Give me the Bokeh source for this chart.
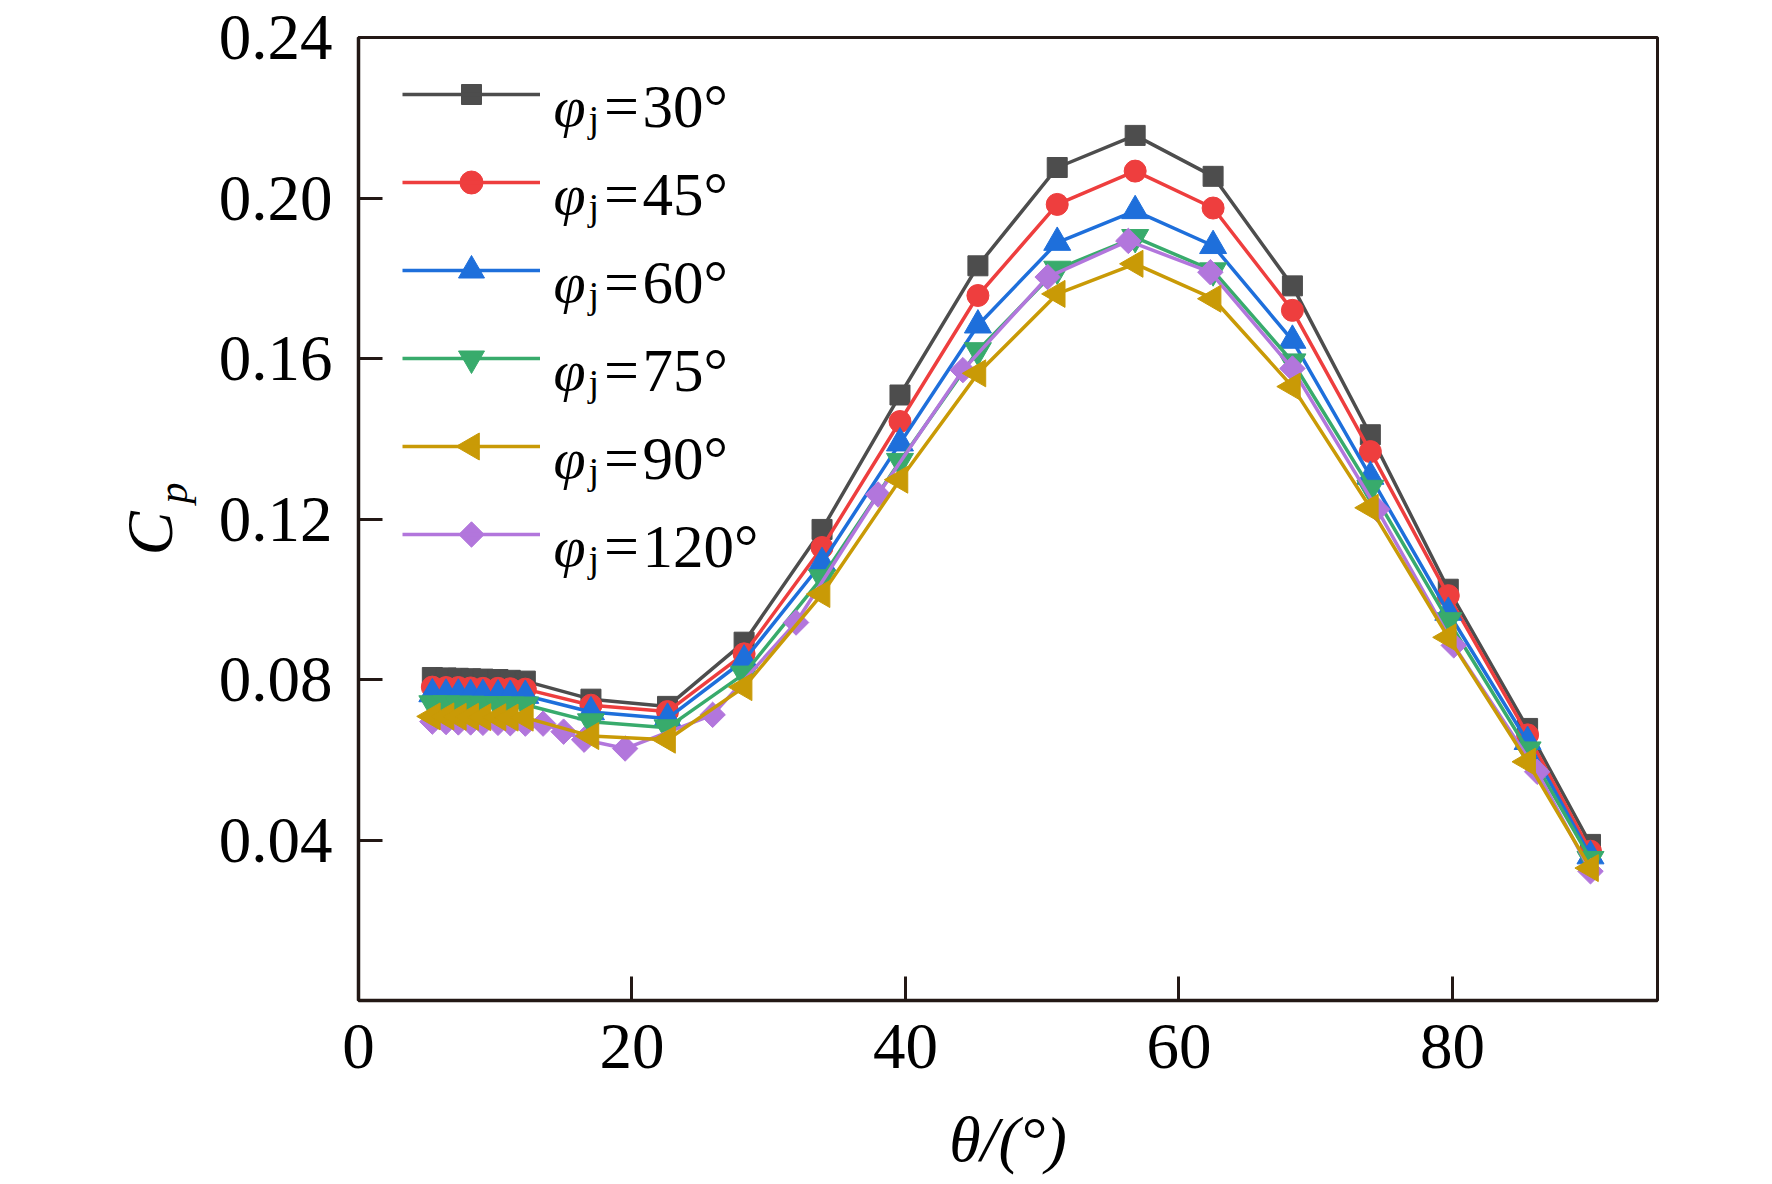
import math
from bokeh.plotting import figure
from bokeh.layouts import row
from bokeh.models import Range1d, FixedTicker, Legend, LegendItem, Label
from bokeh.core.properties import value
from bokeh.embed import file_html
from bokeh.resources import INLINE

# ---------------- data ----------------
theta = [5.4, 6.4, 7.3, 8.2, 9.1, 10.2, 11.1, 12.2, 17.0, 22.6, 28.2, 33.9,
         39.6, 45.3, 51.1, 56.8, 62.5, 68.3, 74.0, 79.7, 85.5, 90.1]
cp_30 = [0.0805, 0.0804, 0.0803, 0.0802, 0.0801, 0.0800, 0.0798, 0.0796, 0.0751, 0.0733,
         0.0893, 0.1174, 0.1509, 0.1831, 0.2076, 0.2156, 0.2054, 0.1781, 0.1410, 0.1025,
         0.0678, 0.0389]
cp_45 = [0.0781, 0.0780, 0.0780, 0.0779, 0.0778, 0.0778, 0.0777, 0.0776, 0.0736, 0.0720,
         0.0864, 0.1129, 0.1443, 0.1757, 0.1984, 0.2067, 0.1975, 0.1720, 0.1368, 0.1009,
         0.0662, 0.0372]
cp_60 = [0.0764, 0.0763, 0.0763, 0.0762, 0.0762, 0.0761, 0.0760, 0.0760, 0.0719, 0.0703,
         0.0848, 0.1091, 0.1389, 0.1683, 0.1889, 0.1968, 0.1881, 0.1645, 0.1306, 0.0967,
         0.0645, 0.0360]
cp_75 = [0.0740, 0.0740, 0.0739, 0.0739, 0.0738, 0.0738, 0.0737, 0.0737, 0.0695, 0.0680,
         0.0814, 0.1054, 0.1344, 0.1620, 0.1823, 0.1902, 0.1819, 0.1592, 0.1277, 0.0947,
         0.0625, 0.0352]
cp_90 = [0.0708, 0.0708, 0.0707, 0.0707, 0.0706, 0.0706, 0.0705, 0.0705, 0.0659, 0.0650,
         0.0781, 0.1013, 0.1298, 0.1563, 0.1761, 0.1836, 0.1749, 0.1530, 0.1228, 0.0905,
         0.0595, 0.0330]
theta_120 = [5.4, 6.4, 7.3, 8.2, 9.1, 10.2, 11.1, 12.2, 13.5, 15.0, 16.5, 19.5, 25.9,
             32.0, 38.0, 44.2, 50.4, 56.3, 62.3, 68.3, 74.5, 80.1, 86.2, 90.1]
cp_120 = [0.0695, 0.0694, 0.0693, 0.0693, 0.0692, 0.0692, 0.0691, 0.0690, 0.0690, 0.0670,
          0.0650, 0.0628, 0.0712, 0.0942, 0.1261, 0.1571, 0.1803, 0.1893, 0.1815, 0.1575,
          0.1224, 0.0885, 0.0570, 0.0322]

jet_angles = [30, 45, 60, 75, 90, 120]
x_ticks = [0, 20, 40, 60, 80]
y_ticks = [0.04, 0.08, 0.12, 0.16, 0.20, 0.24]
y_tick_labels = ["0.04", "0.08", "0.12", "0.16", "0.20", "0.24"]
x_title = "θ/(°)"

# ---------------- styling ----------------
AX = "#231815"
SERIF = "Liberation Serif"
colors = ["#4d4d4d", "#ee3e3e", "#1e6fdb", "#38ab6c", "#c99a06", "#b276dc"]
markers = [
    dict(marker="square", size=20),
    dict(marker="circle", size=22),
    dict(marker="triangle", size=27),
    dict(marker="inverted_triangle", size=27),
    dict(marker="triangle", size=27, angle=math.pi / 2),
    dict(marker="square", size=18, angle=math.pi / 4),
]

X0, X1, Y0, Y1 = 0, 95, 0, 0.24
LEFT_W = 200                      # width of the strip holding the y title
MAIN_BL, MAIN_BR, MAIN_BT, MAIN_BB = 158, 100, 37, 170
FW, FH = 1299, 963
FL, FT = LEFT_W + MAIN_BL, MAIN_BT
FR, FB = FL + FW, FT + FH


def dx(px):
    return X0 + (px - FL) / (FR - FL) * (X1 - X0)


def dy(py):
    return Y0 + (FB - py) / (FB - FT) * (Y1 - Y0)


p = figure(frame_width=FW, frame_height=FH,
           min_border_left=MAIN_BL, min_border_right=MAIN_BR,
           min_border_top=MAIN_BT, min_border_bottom=MAIN_BB,
           x_range=Range1d(X0, X1), y_range=Range1d(Y0, Y1),
           output_backend="svg", toolbar_location=None,
           background_fill_color="white", border_fill_color="white")
p.grid.visible = False
p.outline_line_color = AX
p.outline_line_width = 3

for ax in (p.xaxis[0], p.yaxis[0]):
    ax.axis_line_color = AX
    ax.axis_line_width = 3.5
    ax.major_tick_line_color = AX
    ax.major_tick_line_width = 3
    ax.major_tick_in = 24
    ax.major_tick_out = 0
    ax.minor_tick_line_color = None
    ax.major_label_text_font = SERIF
    ax.major_label_text_font_size = "65px"
    ax.major_label_text_color = "black"

p.xaxis.ticker = FixedTicker(ticks=x_ticks)
p.xaxis.major_label_standoff = 24
p.xaxis.axis_label = x_title
p.xaxis.axis_label_text_font = SERIF
p.xaxis.axis_label_text_font_style = "italic"
p.xaxis.axis_label_text_font_size = "64px"
p.xaxis.axis_label_text_color = "black"
p.xaxis.axis_label_standoff = 33
p.yaxis.ticker = FixedTicker(ticks=y_ticks)
p.yaxis.major_label_overrides = {t: s for t, s in zip(y_ticks, y_tick_labels)}
p.yaxis.major_label_standoff = 26

series = [
    (theta, cp_30), (theta, cp_45), (theta, cp_60),
    (theta, cp_75), (theta, cp_90), (theta_120, cp_120),
]

line_renderers = [None] * len(series)
for i in [0, 1, 2, 3, 5, 4]:
    xs, ys = series[i]
    c = colors[i]
    line_renderers[i] = p.line(xs, ys, line_color=c, line_width=3.5)
    p.scatter(xs, ys, fill_color=c, line_color=c, **markers[i])

# ---------------- legend ----------------
items = [LegendItem(label=value(" "), renderers=[line_renderers[i]]) for i in range(len(series))]
legend = Legend(items=items, location=(44, 441),
                glyph_width=138, glyph_height=50, label_height=50,
                label_width=0, spacing=38, padding=0, margin=0, label_standoff=0,
                label_text_font_size="10px",
                background_fill_alpha=0, border_line_alpha=0)
p.add_layout(legend, "center")

ROW0, ROW_STEP = 94, 88
legend_marker_sizes = [20, 23, 26, 26, 27, 18]
for k, a in enumerate(jet_angles):
    rc = ROW0 + ROW_STEP * k
    mk = dict(markers[k])
    mk["size"] = legend_marker_sizes[k]
    p.scatter([dx(471)], [dy(rc)], fill_color=colors[k], line_color=colors[k], **mk)
    p.add_layout(Label(x=dx(553), y=dy(rc + 11.5), text="φ", text_font=SERIF,
                       text_font_style="italic", text_font_size="58px",
                       text_baseline="alphabetic", text_align="left", text_color="black"))
    p.add_layout(Label(x=dx(588), y=dy(rc + 24), text="j", text_font=SERIF,
                       text_font_size="38px", text_baseline="alphabetic",
                       text_align="left", text_color="black"))
    p.add_layout(Label(x=dx(621), y=dy(rc + 11.5), text="=", text_font=SERIF,
                       text_font_size="62px", text_baseline="alphabetic",
                       text_align="center", text_color="black"))
    p.add_layout(Label(x=dx(642), y=dy(rc + 11.5), text=f"{a}°", text_font=SERIF,
                       text_font_size="61px", text_baseline="alphabetic",
                       text_align="left", text_color="black"))

# ---------------- y title strip: C_p (frame aligned with the main frame) ----------------
left = figure(frame_width=LEFT_W, frame_height=FH,
              min_border_left=0, min_border_right=0,
              min_border_top=MAIN_BT, min_border_bottom=MAIN_BB,
              x_range=Range1d(0, LEFT_W), y_range=Range1d(0, FH),
              x_axis_type=None, y_axis_type=None, outline_line_color=None,
              output_backend="svg", toolbar_location=None)
left.add_layout(Label(x=149, y=FB - 533, text="C", text_font=SERIF,
                      text_font_style="italic", text_font_size="66px",
                      text_baseline="alphabetic", text_align="center",
                      angle=math.pi / 2, text_color="black"))
left.add_layout(Label(x=172, y=FB - 503, text="p", text_font=SERIF,
                      text_font_style="italic", text_font_size="42px",
                      text_baseline="alphabetic", text_align="left",
                      angle=math.pi / 2, text_color="black"))

layout = row(left, p)
open("out.html", "w").write(file_html(layout, INLINE))
